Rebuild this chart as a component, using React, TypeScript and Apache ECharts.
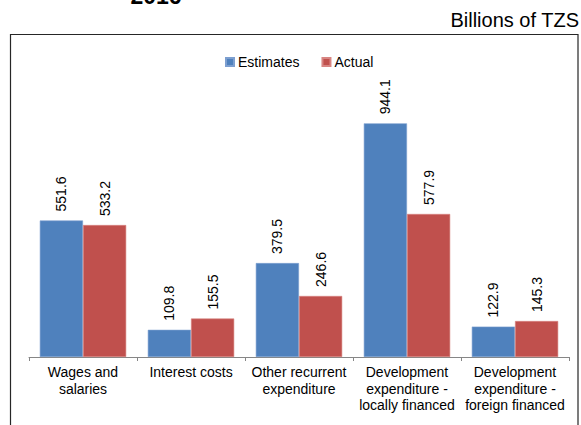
import React, { useEffect, useRef } from "react";
import * as echarts from "echarts";

const categories: string[] = [
  "Wages and\nsalaries",
  "Interest costs",
  "Other recurrent\nexpenditure",
  "Development\nexpenditure -\nlocally financed",
  "Development\nexpenditure -\nforeign financed",
];
const estimates: number[] = [551.6, 109.8, 379.5, 944.1, 122.9];
const actual: number[] = [533.2, 155.5, 246.6, 577.9, 145.3];
const seriesNames: string[] = ["Estimates", "Actual"];
const titleText = "2016";
const unitText = "Billions of TZS";

const FONT = "'Liberation Sans', Arial, sans-serif";

export default function App() {
  const ref = useRef<HTMLDivElement>(null);
  useEffect(() => {
    if (!ref.current) return;
    const chart = echarts.init(ref.current, undefined, { renderer: "svg" });
    const valueLabel = {
      show: true,
      position: "top",
      rotate: 90,
      align: "left",
      verticalAlign: "middle",
      distance: 8,
      offset: [1, 0],
      color: "#000",
      fontSize: 14,
      fontFamily: FONT,
      formatter: (p: any) => Number(p.value).toFixed(1),
    };
    chart.setOption({
      animation: false,
      backgroundColor: "#fff",
      textStyle: { fontFamily: FONT },
      graphic: [
        {
          type: "rect",
          shape: { x: 10.5, y: 34.5, width: 567.5, height: 500 },
          style: { fill: "none", stroke: "#262626", lineWidth: 1.2 },
          silent: true,
        },
        {
          type: "text",
          x: 156,
          y: -4.2,
          style: {
            text: titleText,
            fontSize: 23,
            fontWeight: "bold",
            fontFamily: FONT,
            fill: "#000",
            align: "center",
            verticalAlign: "middle",
          },
        },
        {
          type: "text",
          x: 579,
          y: 20,
          style: {
            text: unitText,
            fontSize: 20,
            fontFamily: FONT,
            fill: "#000",
            align: "right",
            verticalAlign: "middle",
          },
        },
      ],
      legend: {
        data: seriesNames,
        left: 220,
        top: 50,
        icon: "rect",
        itemWidth: 8,
        itemHeight: 8,
        itemGap: 22,
        textStyle: { fontSize: 14, color: "#000", fontFamily: FONT, padding: [0, 0, 0, -1] },
      },
      grid: { left: 29, right: 12, top: 109.5, bottom: 68, containLabel: false },
      xAxis: {
        type: "category",
        data: categories,
        axisLine: { lineStyle: { color: "#868686", width: 1 } },
        axisTick: { show: true, length: 4, lineStyle: { color: "#868686" } },
        axisLabel: {
          color: "#000",
          fontSize: 14,
          lineHeight: 16.5,
          margin: 7,
          fontFamily: FONT,
          interval: 0,
        },
      },
      yAxis: {
        type: "value",
        min: 0,
        max: 1000,
        show: false,
        splitLine: { show: false },
      },
      series: [
        {
          name: seriesNames[0],
          type: "bar",
          data: estimates,
          barGap: "0%",
          barCategoryGap: "20%",
          itemStyle: { color: "#4F81BD", borderColor: "#7d9fd0", borderWidth: 0.6 },
          label: valueLabel,
        },
        {
          name: seriesNames[1],
          type: "bar",
          data: actual,
          barGap: "0%",
          barCategoryGap: "20%",
          itemStyle: { color: "#C0504D", borderColor: "#d88582", borderWidth: 0.6 },
          label: valueLabel,
        },
      ],
    });
    return () => chart.dispose();
  }, []);
  return (
    <div
      ref={ref}
      style={{ position: "fixed", left: 0, top: 0, width: 581, height: 425 }}
    />
  );
}
